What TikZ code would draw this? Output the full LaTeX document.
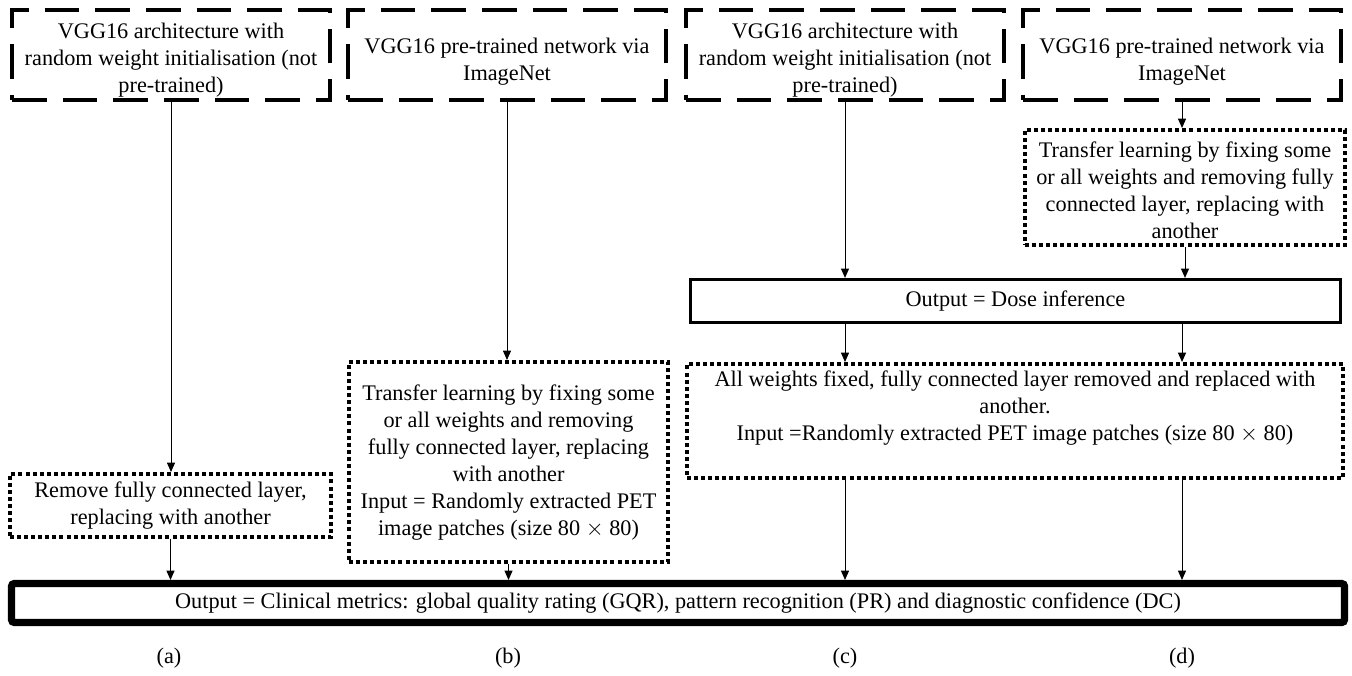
\documentclass[tikz,border=0pt]{standalone}
\usepackage{fontspec}
\setmainfont{Liberation Serif}
\usetikzlibrary{arrows.meta}
\begin{document}
\begin{tikzpicture}[x=0.75pt,y=-0.75pt,
  every node/.style={font=\fontsize{16.7}{20.25}\selectfont, inner sep=0pt},
  dashbox/.style={draw, line width=3.4pt, dash pattern=on 26pt off 12pt, minimum width=318*0.75pt, minimum height=90*0.75pt},
  dotbox/.style={draw, line width=3pt, dash pattern=on 3pt off 2.3pt},
  solidbox/.style={draw, line width=2.4pt},
  thickbox/.style={draw, line width=5.3pt, rounded corners=2pt},
  txt/.style={align=center},
  arr/.style={-{Triangle[length=7pt,width=6pt]}, line width=0.75pt},
]
\useasboundingbox (0,0) rectangle (1352,675);

% top boxes
\node[dashbox] (A) at (171,55) {};
\node[txt] (At) at (171,60) {VGG16 architecture with\\random weight initialisation (not\\pre-trained)};
\node[dashbox] (B) at (507,55) {};
\node[txt] (Bt) at (507,62) {VGG16 pre-trained network via\\ImageNet};
\node[dashbox] (C) at (845,55) {};
\node[txt] (Ct) at (845,60) {VGG16 architecture with\\random weight initialisation (not\\pre-trained)};
\node[dashbox] (D) at (1182,55) {};
\node[txt] (Dt) at (1182,62) {VGG16 pre-trained network via\\ImageNet};

% column d transfer box
\node[dotbox, minimum width=320*0.75pt, minimum height=115*0.75pt] (D2) at (1185,187.5) {};
\node[txt] (D2t) at (1185,190) {Transfer learning by fixing some\\or all weights and removing fully\\connected layer, replacing with\\another};

% dose inference
\node[solidbox, minimum width=650*0.75pt, minimum height=43*0.75pt] (Dose) at (1015.5,301) {Output = Dose inference};

% c/d fixed weights box
\node[dotbox, minimum width=656*0.75pt, minimum height=114*0.75pt] (CD) at (1015,421) {};
\node[txt] (CDt) at (1015,408) {All weights fixed, fully connected layer removed and replaced with\\another.\\Input =Randomly extracted PET image patches (size 80 $\times$ 80)};

% column b transfer box
\node[dotbox, minimum width=319*0.75pt, minimum height=200*0.75pt] (B2) at (508.5,462) {};
\node[txt] (B2t) at (508.5,463) {Transfer learning by fixing some\\or all weights and removing\\fully connected layer, replacing\\with another\\Input = Randomly extracted PET\\image patches (size 80 $\times$ 80)};

% column a remove box
\node[dotbox, txt, minimum width=321*0.75pt, minimum height=63*0.75pt] (A2) at (170.5,505.5) {Remove fully connected layer,\\replacing with another};

% clinical output
\node[thickbox, minimum width=1333*0.75pt, minimum height=39*0.75pt] (Clin) at (678,603) {Output = Clinical metrics: global quality rating (GQR), pattern recognition (PR) and diagnostic confidence (DC)};

% arrows
\draw[arr] (A.south) -- (A.south |- A2.north);
\draw[arr] (A2.south) -- (A2.south |- Clin.north);
\draw[arr] (B.south) -- (B.south |- B2.north);
\draw[arr] (B2.south) -- (B2.south |- Clin.north);
\draw[arr] (C.south) -- (C.south |- Dose.north);
\draw[arr] (D.south) -- (D.south |- D2.north);
\draw[arr] (D2.south) -- (D2.south |- Dose.north);
\draw[arr] (Dose.south -| C.south) -- (CD.north -| C.south);
\draw[arr] (Dose.south -| D.south) -- (CD.north -| D.south);
\draw[arr] (CD.south -| C.south) -- (Clin.north -| C.south);
\draw[arr] (CD.south -| D.south) -- (Clin.north -| D.south);

% labels
\node (la) at (169,658) {(a)};
\node (lb) at (508,658) {(b)};
\node (lc) at (845,658) {(c)};
\node (ld) at (1182,658) {(d)};
\end{tikzpicture}
\end{document}
